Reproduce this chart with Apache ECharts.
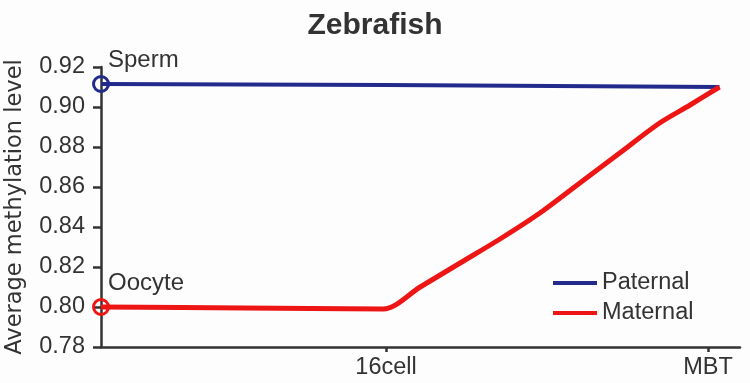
<!DOCTYPE html>
<html>
<head>
<meta charset="utf-8">
<script src="https://cdn.jsdelivr.net/npm/echarts@6/dist/echarts.min.js"></script>
<style>html,body{margin:0;padding:0;background:#fdfdfd;}#c{width:750px;height:383px;}</style>
</head>
<body>
<div id="c"></div>
<script>
// Stage positions on the developmental axis (16cell = 1)
const stageNames = ['16cell', 'MBT'];
const stageX = [1, 2.13];
const yTicks = [0.78, 0.80, 0.82, 0.84, 0.86, 0.88, 0.90, 0.92];

const paternalX = [0, 1, 2.17];
const paternalY = [0.9115, 0.911, 0.910];

const maternalX = [0, 0.5, 0.99, 1.12, 1.26, 1.40, 1.54, 1.68, 1.82, 1.96, 2.067, 2.17];
const maternalY = [0.800, 0.7995, 0.799, 0.810, 0.822, 0.834, 0.847, 0.862, 0.877, 0.892, 0.901, 0.910];

const startLabels = ['Sperm', 'Oocyte'];

const FONT = 'Liberation Sans, Arial, sans-serif';
const BLUE = '#222a8c';
const RED = '#ee1515';

function build(xs, ys, color, label) {
  return xs.map((x, i) => {
    const p = { value: [x, ys[i]] };
    if (i === 0) {
      p.symbol = 'circle';
      p.symbolSize = 15;
      p.itemStyle = { color: 'transparent', borderColor: color, borderWidth: 3 };
      p.label = { show: true, formatter: label, position: [16, -15], align: 'left', verticalAlign: 'middle',
        fontSize: 24, color: '#333', fontFamily: FONT };
    } else {
      p.symbol = 'none';
    }
    return p;
  });
}

const chart = echarts.init(document.getElementById('c'));
chart.setOption({
  backgroundColor: '#fdfdfd',
  animation: false,
  title: { text: 'Zebrafish', left: 'center', top: 6,
    textStyle: { fontSize: 30, fontWeight: 'bold', color: '#333', fontFamily: FONT } },
  grid: { left: 101, right: 10, top: 67, bottom: 36, containLabel: false, outerBoundsMode: 'none' },
  legend: {
    orient: 'vertical', left: 548, top: 266,
    icon: 'rect', itemWidth: 44, itemHeight: 4, itemGap: 6,
    textStyle: { fontSize: 23.5, color: '#333', fontFamily: FONT, lineHeight: 24 },
    data: ['Paternal', 'Maternal']
  },
  xAxis: {
    type: 'value', min: 0, max: 2.242,
    axisLine: { show: true, lineStyle: { color: '#333', width: 2.5 } },
    axisTick: { show: true, customValues: stageX, length: 5, lineStyle: { color: '#333', width: 2.5 } },
    axisLabel: { customValues: stageX, formatter: v => stageNames[stageX.indexOf(v)] || '',
      fontSize: 23.5, color: '#333', fontFamily: FONT, margin: 9 },
    splitLine: { show: false }
  },
  yAxis: {
    type: 'value', min: 0.78, max: 0.92, interval: 0.02,
    name: 'Average methylation level', nameLocation: 'middle', nameGap: 74,
    nameTextStyle: { fontSize: 22.5, color: '#333', fontFamily: 'DejaVu Sans, sans-serif' },
    axisLine: { show: true, lineStyle: { color: '#333', width: 2.5 } },
    axisTick: { show: true, length: 8, lineStyle: { color: '#333', width: 2.5 } },
    axisLabel: { formatter: v => v.toFixed(2), fontSize: 23.5, color: '#333', fontFamily: FONT, margin: 16 },
    splitLine: { show: false }
  },
  series: [
    { name: 'Paternal', type: 'line', data: build(paternalX, paternalY, BLUE, startLabels[0]),
      color: BLUE, lineStyle: { color: BLUE, width: 4 }, z: 3 },
    { name: 'Maternal', type: 'line', data: build(maternalX, maternalY, RED, startLabels[1]),
      smooth: 0.3,
      color: RED, lineStyle: { color: RED, width: 5, join: 'round' }, z: 4 }
  ]
});
</script>
</body>
</html>
